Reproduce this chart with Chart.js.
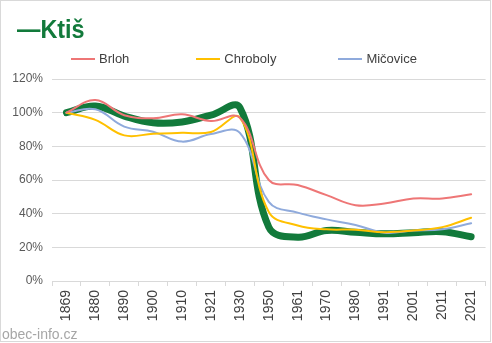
<!DOCTYPE html>
<html>
<head>
<meta charset="utf-8">
<script src="https://cdn.jsdelivr.net/npm/chart.js@4.4.1/dist/chart.umd.min.js"></script>
<style>
  html, body { margin: 0; padding: 0; background: #fff; }
  #wrap { position: relative; width: 492px; height: 343px; overflow: hidden; font-family: "Liberation Sans", Arial, sans-serif; }
  #frame { position: absolute; left: 0; top: 0; width: 489px; height: 340px; border: 1px solid #d9d9d9; }
  #title { position: absolute; left: 17px; top: 14px; font-size: 26px; font-weight: bold; color: #127a3b; transform: scaleX(0.9); transform-origin: left top; white-space: nowrap; }
  #legend { position: absolute; left: 71px; top: 51px; display: flex; font-size: 13px; color: #404040; }
  #legend .item { display: flex; align-items: center; }
  #legend .line { display: inline-block; width: 24px; height: 2px; margin-right: 4px; }
  #footer { position: absolute; left: 2px; top: 326px; font-size: 14px; color: #a6a6a6; }
  canvas { position: absolute; left: 0; top: 0; }
</style>
</head>
<body>
<div id="wrap">
  <div id="frame"></div>
  <canvas id="popChart" width="492" height="343"></canvas>
  <div id="title">—Ktiš</div>
  <div id="legend"></div>
  <div id="footer">obec-info.cz</div>
</div>
<script>
// census years and population relative to 1869 (%)
const years = ["1869", "1880", "1890", "1900", "1910", "1921", "1930", "1950", "1961", "1970", "1980", "1991", "2001", "2011", "2021"];
const ktis     = [100, 104, 98, 94, 94.5, 98.5, 103, 32, 26, 30, 29, 28, 28.7, 29.3, 26.3];
const brloh    = [100, 107.5, 98.5, 96.7, 99, 95, 97, 60, 57, 51, 45, 46, 49, 49, 51.5];
const chroboly = [100, 95.7, 86.5, 87.5, 88, 88.5, 97, 41, 33, 30.7, 30.5, 29, 30, 32, 37.6];
const micovice = [100, 102, 91.7, 88.7, 82.8, 87.3, 88, 47, 40.6, 36.6, 33.3, 28.7, 30, 30.7, 34.3];
const yTicks   = [0, 20, 40, 60, 80, 100, 120];

const legendSeries = [
  { name: "Brloh", color: "#ee7676", gap: 67 },
  { name: "Chroboly", color: "#ffc000", gap: 62 },
  { name: "Mičovice", color: "#8faadc", gap: 0 }
];

const legendEl = document.getElementById("legend");
legendSeries.forEach((s) => {
  const item = document.createElement("span");
  item.className = "item";
  item.style.marginRight = s.gap + "px";
  item.innerHTML = `<span class="line" style="background:${s.color}"></span>${s.name}`;
  legendEl.appendChild(item);
});

const ctx = document.getElementById("popChart").getContext("2d");
new Chart(ctx, {
  type: "line",
  data: {
    labels: years,
    datasets: [
      { label: "Brloh", data: brloh, borderColor: "#ee7676", borderWidth: 2, order: 0 },
      { label: "Chroboly", data: chroboly, borderColor: "#ffc000", borderWidth: 2, order: 0 },
      { label: "Mičovice", data: micovice, borderColor: "#8faadc", borderWidth: 2, order: 0 },
      { label: "Ktiš", data: ktis, borderColor: "#127a3b", borderWidth: 7, order: 5 }
    ]
  },
  options: {
    responsive: false,
    animation: false,
    layout: { padding: { top: 79, right: 2, left: 0, bottom: 0 } },
    elements: {
      point: { radius: 0 },
      line: { tension: 0.4, fill: false, borderCapStyle: "round", borderJoinStyle: "round" }
    },
    plugins: {
      legend: { display: false },
      title: { display: false },
      tooltip: { enabled: false }
    },
    scales: {
      x: {
        offset: true,
        afterFit: (scale) => { scale.height = 62; },
        grid: { offset: true, drawOnChartArea: false, tickLength: 5, color: "#d9d9d9" },
        border: { color: "#d9d9d9" },
        ticks: {
          minRotation: 90,
          maxRotation: 90,
          padding: 4,
          color: "#404040",
          font: { family: "Liberation Sans", size: 14 }
        }
      },
      y: {
        min: 0,
        max: 120,
        afterFit: (scale) => { scale.width = 52; },
        afterBuildTicks: (scale) => { scale.ticks = yTicks.map((v) => ({ value: v })); },
        grid: { color: "#d9d9d9", drawTicks: false },
        border: { display: false },
        ticks: {
          padding: 9,
          color: "#595959",
          font: { family: "Liberation Sans", size: 12 },
          callback: (v) => v + "%"
        }
      }
    }
  }
});
</script>
</body>
</html>
